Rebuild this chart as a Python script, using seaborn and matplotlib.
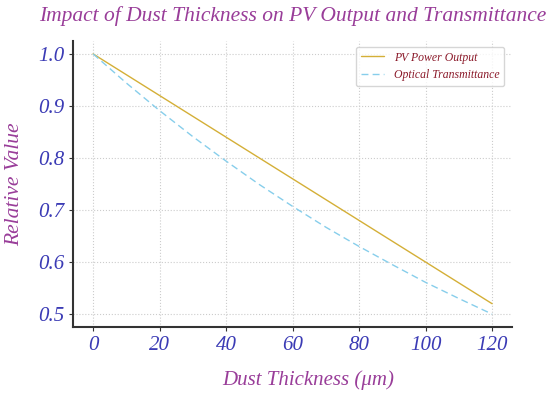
import matplotlib
matplotlib.use("Agg")
import matplotlib.pyplot as plt
import seaborn as sns
import pandas as pd

thickness_pv = [0, 20, 40, 60, 80, 100, 120]
pv_output = [1.0, 0.92, 0.84, 0.76, 0.68, 0.60, 0.52]

thickness_tr = [0, 10, 20, 30, 40, 50, 60, 70, 80, 90, 100, 110, 120]
transmittance = [1.0, 0.944, 0.891, 0.841, 0.794, 0.749, 0.707, 0.667, 0.630, 0.595, 0.561, 0.530, 0.50]

sns.set_style("whitegrid")
plt.rcParams['font.family'] = ['Liberation Serif', 'DejaVu Serif']

fig = plt.figure(figsize=(5.5, 3.97), dpi=100)
ax = fig.add_axes([0.133, 0.176, 0.798, 0.721])

df_pv = pd.DataFrame({"x": thickness_pv, "y": pv_output})
df_tr = pd.DataFrame({"x": thickness_tr, "y": transmittance})
sns.lineplot(data=df_pv, x="x", y="y", ax=ax, color="#D4AF37", lw=1.0, label="PV Power Output")
sns.lineplot(data=df_tr, x="x", y="y", ax=ax, color="#87CEEB", lw=1.0, linestyle=(0, (5, 3)),
             label="Optical Transmittance")

ax.set_xlim(-6, 126)
ax.set_ylim(0.475, 1.025)
ax.set_xticks([0, 20, 40, 60, 80, 100, 120])
ax.set_yticks([0.5, 0.6, 0.7, 0.8, 0.9, 1.0])

ax.grid(True, color="#cccccc", linestyle=":", linewidth=0.8)
for s in ["top", "right"]:
    ax.spines[s].set_visible(False)
for s in ["left", "bottom"]:
    ax.spines[s].set_color("#333333")
    ax.spines[s].set_linewidth(1.5)

ax.tick_params(axis="both", which="major", length=3, width=0.8, color="#333333",
               labelsize=15, labelcolor="#3B3BB5", direction="out", bottom=True, left=True)
for lbl in ax.get_xticklabels() + ax.get_yticklabels():
    lbl.set_fontstyle("italic")

ax.set_title("Impact of Dust Thickness on PV Output and Transmittance", fontsize=15.5,
             fontstyle="italic", color="#993D99", pad=14)
ax.set_xlabel("Dust Thickness (μm)", fontsize=15, fontstyle="italic", color="#993D99")
ax.xaxis.set_label_coords(0.535, -0.15)
ax.set_ylabel("Relative Value", fontsize=15.5, fontstyle="italic", color="#993D99", labelpad=10)

leg = ax.legend(loc="upper right", frameon=True, prop={"style": "italic", "size": 8.5},
                bbox_to_anchor=(0.995, 1.0))
for t in leg.get_texts():
    t.set_color("#8B1A2A")
leg.get_frame().set_edgecolor("#cccccc")

fig.savefig("out.png", dpi=100)
